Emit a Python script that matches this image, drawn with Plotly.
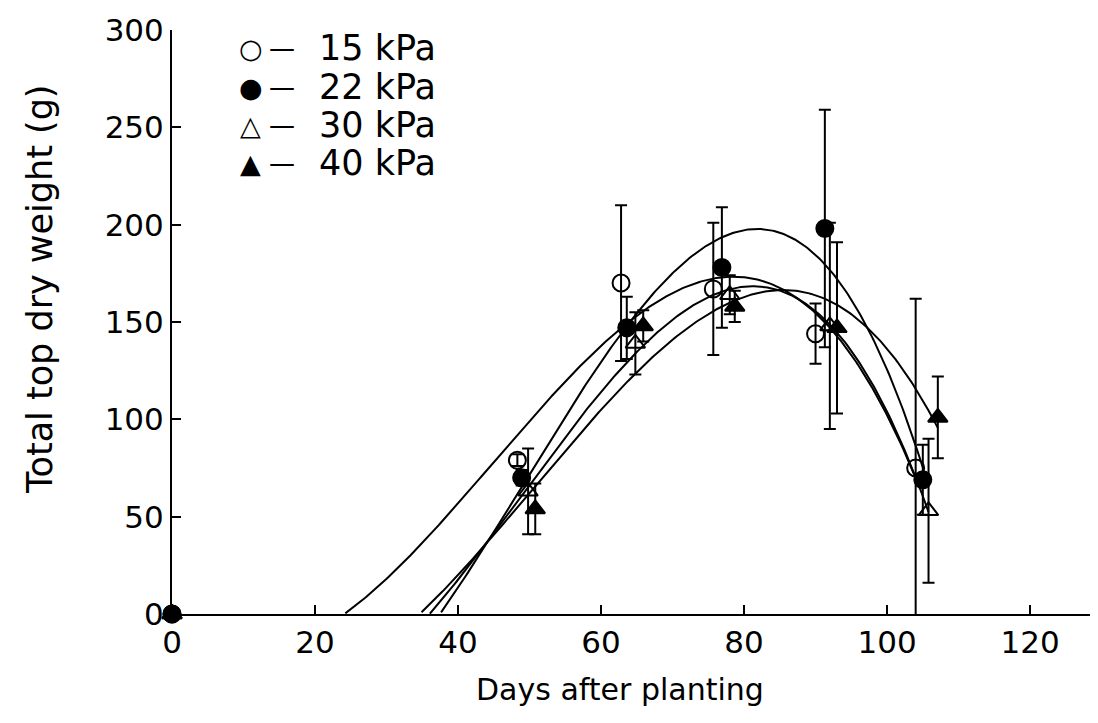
import numpy as np
import plotly.graph_objects as go

# ---- data ----
series_names = ["15 kPa", "22 kPa", "30 kPa", "40 kPa"]
x15 = [0, 48.3, 62.8, 75.7, 90.0, 104.0]
y15 = [0, 79, 170, 167, 144, 75]
e15 = [0, 3, 40, 34, 15.5, 87]

x22 = [0, 48.9, 63.6, 76.9, 91.3, 105.0]
y22 = [0, 70, 147, 178, 198, 69]
e22 = [0, 4, 16, 31, 61, 18]

x30 = [0, 49.8, 64.8, 78.0, 92.0, 105.8]
y30 = [0, 63, 139, 164, 148, 53]
e30 = [0, 22, 16, 10, 53, 37]

x40 = [0, 50.8, 65.9, 78.7, 93.0, 107.1]
y40 = [0, 54, 148, 158, 147, 101]
e40 = [0, 13, 8, 8, 44, 21]

xs = [x15, x22, x30, x40]
ys = [y15, y22, y30, y40]
es = [e15, e22, e30, e40]
symbols = ["circle-open", "circle", "triangle-up-open", "triangle-up"]
legend_glyphs = ["\u25cb", "\u25cf", "\u25b3", "\u25b2"]

x_ticks = [0, 20, 40, 60, 80, 100, 120]
y_ticks = [0, 50, 100, 150, 200, 250, 300]
x_title = "Days after planting"
y_title = "Total top dry weight (g)"

FONT = "DejaVu Sans, Liberation Sans, sans-serif"
fig = go.Figure()

# fitted regression curves (cubic fit to each series' points)
for x, y in zip(xs, ys):
    coef = np.polyfit(x, y, 3)
    gx = np.linspace(0, max(x), 400)
    gy = np.polyval(coef, gx)
    gy = np.where(gy < 0, np.nan, gy)
    if np.isnan(gy).any():
        last_neg = np.where(np.isnan(gy))[0].max()
        gy[:last_neg] = np.nan
    fig.add_trace(go.Scatter(x=gx, y=gy, mode="lines",
                             line=dict(color="black", width=2),
                             showlegend=False, hoverinfo="skip"))

for name, x, y, e, sym in zip(series_names, xs, ys, es, symbols):
    fig.add_trace(go.Scatter(
        x=x, y=y, mode="markers", name=name, showlegend=False,
        cliponaxis=False,
        marker=dict(symbol=sym, size=17, color="black",
                    line=dict(color="black", width=2)),
        error_y=dict(type="data", array=e, visible=True, color="black",
                     thickness=2, width=6),
    ))

# legend drawn as text rows (symbol, dash, label)
row_y = [0.969, 0.902, 0.837, 0.772]
for glyph, name, ry in zip(legend_glyphs, series_names, row_y):
    fig.add_annotation(xref="paper", yref="paper", x=0.0853, y=ry,
                       xanchor="center", yanchor="middle", showarrow=False,
                       text=glyph, font=dict(family=FONT, size=27, color="black"))
    fig.add_annotation(xref="paper", yref="paper", x=0.1188, y=ry,
                       xanchor="center", yanchor="middle", showarrow=False,
                       text="\u2014", font=dict(family=FONT, size=26, color="black"))
    fig.add_annotation(xref="paper", yref="paper", x=0.1566, y=ry,
                       xanchor="left", yanchor="middle", showarrow=False,
                       text=name,
                       font=dict(family=FONT, size=35, color="black"))

# axis titles
fig.add_annotation(xref="paper", yref="paper", x=0.484, y=-0.130,
                   xanchor="center", yanchor="middle", showarrow=False,
                   text=x_title, font=dict(family=FONT, size=30, color="black"))
fig.add_annotation(xref="paper", yref="paper", x=-0.1425, y=0.555,
                   xanchor="center", yanchor="middle", showarrow=False,
                   textangle=-90,
                   text=y_title, font=dict(family=FONT, size=35, color="black"))

fig.update_layout(
    width=1090, height=715,
    paper_bgcolor="white", plot_bgcolor="white",
    margin=dict(l=164, r=0, t=22, b=109),
    font=dict(family=FONT, size=30, color="black"),
    showlegend=False,
)
fig.update_xaxes(range=[0, 129.5], tickvals=x_ticks, ticks="inside",
                 ticklen=9, tickwidth=2, tickcolor="black",
                 showline=True, linewidth=2, linecolor="black",
                 showgrid=False, zeroline=False, automargin=False,
                 tickfont=dict(size=31))
fig.update_yaxes(range=[0, 300], tickvals=y_ticks, ticks="inside",
                 ticklen=9, tickwidth=2, tickcolor="black",
                 showline=True, linewidth=2, linecolor="black",
                 showgrid=False, zeroline=False, automargin=False,
                 tickfont=dict(size=31))

fig.write_html("out.html")
